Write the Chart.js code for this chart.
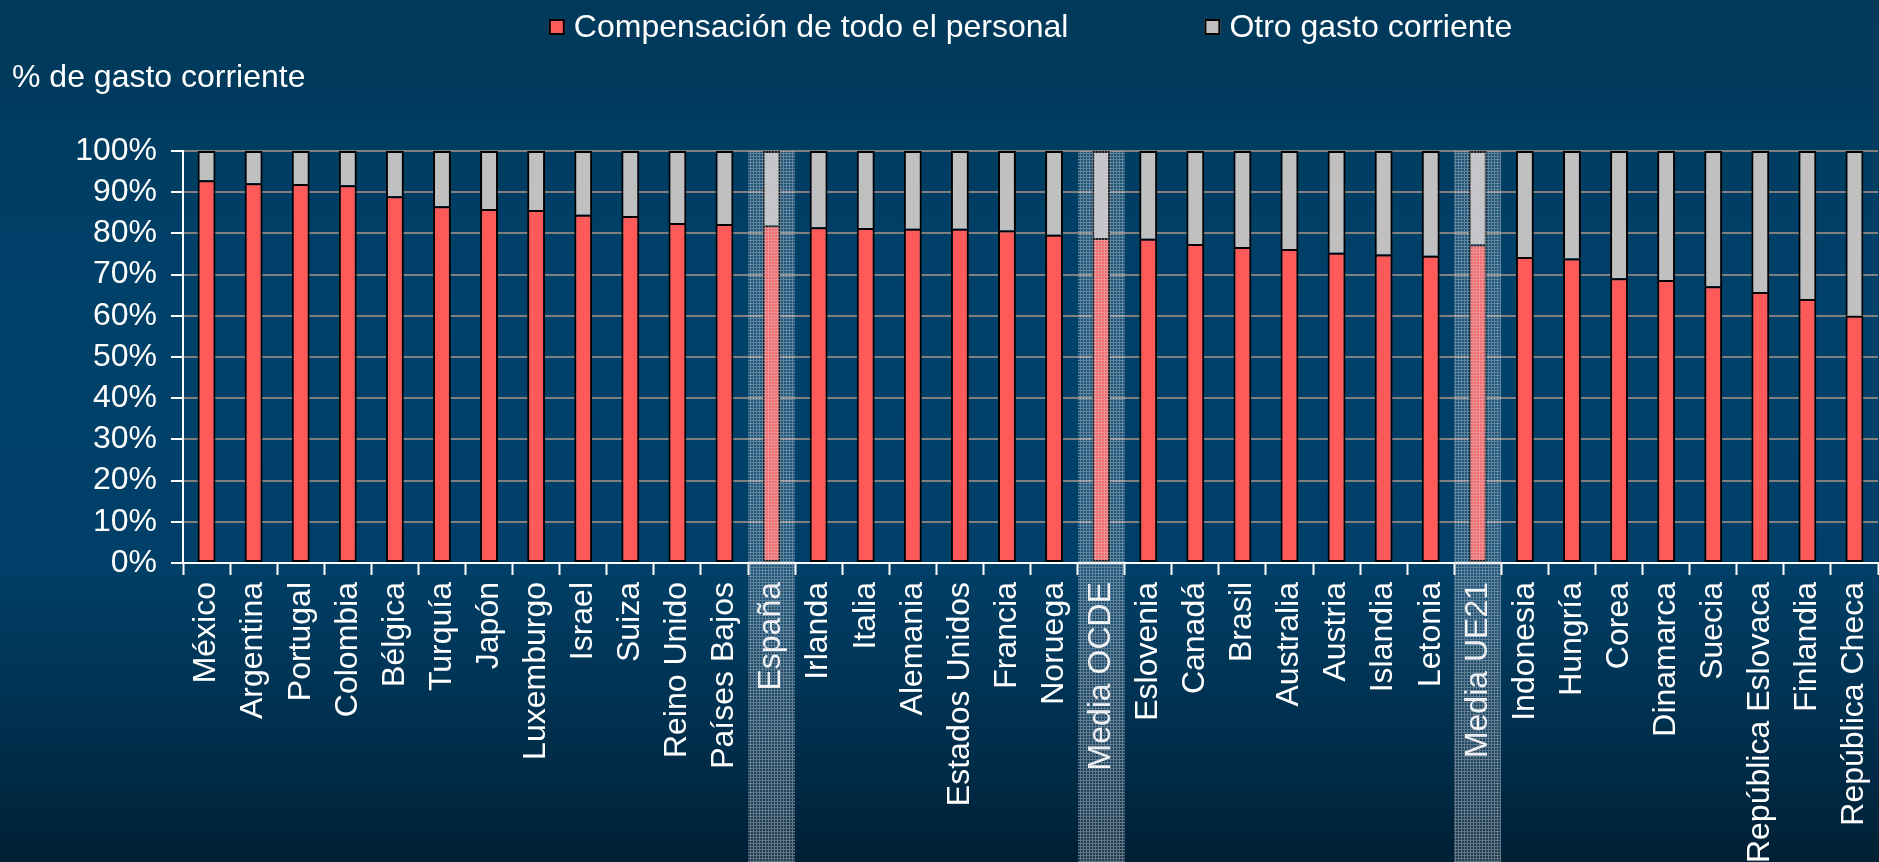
<!DOCTYPE html>
<html>
<head>
<meta charset="utf-8">
<script src="https://cdn.jsdelivr.net/npm/chart.js@4"></script>
<style>
  html, body { margin: 0; padding: 0; width: 1879px; height: 862px; overflow: hidden; }
  body {
    background: linear-gradient(to bottom, #00395a 0%, #00416a 35%, #004068 65%, #002f4d 85%, #002035 100%);
  }
  canvas { display: block; }
</style>
</head>
<body>
<canvas id="chart" width="1879" height="862"></canvas>
<script>
// Share of current spending: staff compensation vs. other current spending (%)
const categories = [
  'México', 'Argentina', 'Portugal', 'Colombia', 'Bélgica', 'Turquía', 'Japón', 'Luxemburgo',
  'Israel', 'Suiza', 'Reino Unido', 'Países Bajos', 'España', 'Irlanda', 'Italia', 'Alemania',
  'Estados Unidos', 'Francia', 'Noruega', 'Media OCDE', 'Eslovenia', 'Canadá', 'Brasil',
  'Australia', 'Austria', 'Islandia', 'Letonia', 'Media UE21', 'Indonesia', 'Hungría', 'Corea',
  'Dinamarca', 'Suecia', 'República Eslovaca', 'Finlandia', 'República Checa'
];

const compensation = [
  92.9, 92.2, 92.0, 91.7, 89.0, 86.6, 85.9, 85.7,
  84.5, 84.2, 82.5, 82.3, 82.0, 81.5, 81.3, 81.1,
  81.1, 80.7, 79.7, 78.9, 78.7, 77.4, 76.7,
  76.2, 75.3, 74.9, 74.6, 77.3, 74.3, 73.9, 69.1,
  68.7, 67.2, 65.8, 64.1, 60.0
];

const otherSpending = [
  7.1, 7.8, 8.0, 8.3, 11.0, 13.4, 14.1, 14.3,
  15.5, 15.8, 17.5, 17.7, 18.0, 18.5, 18.7, 18.9,
  18.9, 19.3, 20.3, 21.1, 21.3, 22.6, 23.3,
  23.8, 24.7, 25.1, 25.4, 22.7, 25.7, 26.1, 30.9,
  31.3, 32.8, 34.2, 35.9, 40.0
];

const seriesNames = ['Compensación de todo el personal', 'Otro gasto corriente'];
const seriesColors = ['#ff5a5a', '#c0c0c0'];
const highlighted = ['España', 'Media OCDE', 'Media UE21'];
const axisTitle = '% de gasto corriente';

const FONT_FAMILY = "'Liberation Sans', Arial, Helvetica, sans-serif";
const FONT_SIZE = 32;

// Fine dotted texture used for the highlighted columns
function makeDotPattern(ctx) {
  const tile = document.createElement('canvas');
  tile.width = 3; tile.height = 3;
  const t = tile.getContext('2d');
  for (let y = 0; y < 3; y++) {
    for (let x = 0; x < 3; x++) {
      const strong = (x === 0 || y === 0);
      t.fillStyle = strong ? 'rgba(205,210,220,0.48)' : 'rgba(205,210,220,0.14)';
      t.fillRect(x, y, 1, 1);
    }
  }
  return ctx.createPattern(tile, 'repeat');
}

const highlightBands = {
  id: 'highlightBands',
  afterDatasetsDraw(chart) {
    const { ctx, chartArea, scales } = chart;
    const x = scales.x;
    const step = x.getPixelForValue(1) - x.getPixelForValue(0);
    const pattern = makeDotPattern(ctx);
    ctx.save();
    ctx.fillStyle = pattern;
    highlighted.forEach(name => {
      const i = categories.indexOf(name);
      if (i < 0) return;
      const cx = x.getPixelForValue(i);
      ctx.fillRect(Math.round(cx - step / 2), chartArea.top, Math.round(step), chart.height - chartArea.top);
    });
    ctx.restore();
  }
};

// Legend row and axis caption above the plot
const headerText = {
  id: 'headerText',
  afterDraw(chart) {
    const { ctx, chartArea } = chart;
    ctx.save();
    ctx.font = FONT_SIZE + 'px ' + FONT_FAMILY;
    ctx.textBaseline = 'middle';
    ctx.fillStyle = '#ffffff';

    // axis caption
    ctx.textAlign = 'left';
    ctx.fillText(axisTitle, 12, 78);

    // legend
    const box = 16, boxGap = 9, itemGap = 136;
    const widths = seriesNames.map(n => box + boxGap + ctx.measureText(n).width);
    const total = widths.reduce((a, b) => a + b, 0) + itemGap;
    let xPos = (chartArea.left + chartArea.right) / 2 - total / 2;
    const yMid = 27;
    seriesNames.forEach((name, k) => {
      ctx.fillStyle = seriesColors[k];
      ctx.fillRect(xPos, yMid - box / 2, box, box);
      ctx.lineWidth = 2;
      ctx.strokeStyle = '#000000';
      ctx.strokeRect(xPos + 1, yMid - box / 2 + 1, box - 2, box - 2);
      ctx.fillStyle = '#ffffff';
      ctx.fillText(name, xPos + box + boxGap, yMid + 1);
      xPos += widths[k] + itemGap;
    });
    ctx.restore();
  }
};

new Chart(document.getElementById('chart'), {
  type: 'bar',
  data: {
    labels: categories,
    datasets: [
      {
        label: seriesNames[0],
        data: compensation,
        backgroundColor: seriesColors[0],
        borderColor: '#000000',
        borderWidth: 2,
        borderSkipped: false,
        barPercentage: 0.38,
        categoryPercentage: 1.0
      },
      {
        label: seriesNames[1],
        data: otherSpending,
        backgroundColor: seriesColors[1],
        borderColor: '#000000',
        borderWidth: 2,
        borderSkipped: 'start',
        barPercentage: 0.38,
        categoryPercentage: 1.0
      }
    ]
  },
  options: {
    responsive: false,
    animation: false,
    events: [],
    layout: { padding: { top: 151, right: 1, left: 0, bottom: 0 } },
    plugins: {
      legend: { display: false },
      title: { display: false },
      tooltip: { enabled: false }
    },
    scales: {
      x: {
        stacked: true,
        offset: true,
        grid: {
          offset: true,
          drawOnChartArea: false,
          tickColor: '#ffffff',
          tickLength: 12,
          tickWidth: 2
        },
        border: { color: '#ffffff', width: 2 },
        ticks: {
          color: '#ffffff',
          font: { family: FONT_FAMILY, size: FONT_SIZE },
          maxRotation: 90,
          minRotation: 90,
          padding: 7,
          autoSkip: false
        },
        afterFit(scale) {
          scale.height = 862 - 563;
          scale.paddingLeft = 0;
          scale.paddingRight = 0;
        }
      },
      y: {
        stacked: true,
        min: 0,
        max: 100,
        grid: {
          color: '#808080',
          lineWidth: 2,
          tickColor: '#ffffff',
          tickLength: 12,
          tickWidth: 2
        },
        border: { color: '#ffffff', width: 2 },
        ticks: {
          stepSize: 10,
          autoSkip: false,
          color: '#ffffff',
          font: { family: FONT_FAMILY, size: FONT_SIZE },
          padding: 14,
          callback: v => v + '%'
        },
        afterFit(scale) {
          scale.width = 183;
          scale.paddingTop = 0;
          scale.paddingBottom = 0;
        }
      }
    }
  },
  plugins: [highlightBands, headerText]
});
</script>
</body>
</html>
